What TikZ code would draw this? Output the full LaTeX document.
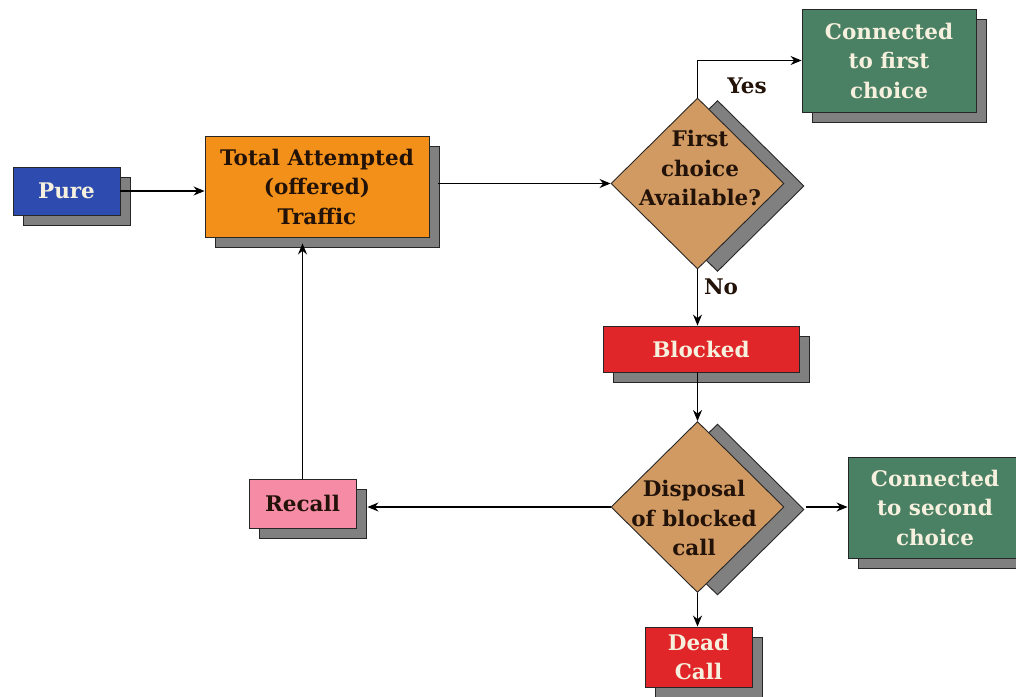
\documentclass[tikz,border=0pt]{standalone}
\usepackage{fontspec}
\setmainfont{DejaVu Serif}
\usetikzlibrary{shapes.geometric,shadows,arrows.meta}
\definecolor{pureblue}{RGB}{46,76,176}
\definecolor{traffic}{RGB}{243,144,25}
\definecolor{tan}{RGB}{209,154,98}
\definecolor{okgreen}{RGB}{74,128,99}
\definecolor{blockred}{RGB}{224,38,40}
\definecolor{pink}{RGB}{245,139,165}
\definecolor{shadowgray}{RGB}{128,128,128}
\definecolor{ink}{RGB}{34,18,8}
\definecolor{cream}{RGB}{246,240,222}
\begin{document}
\begin{tikzpicture}[x=1pt,y=-1pt,
	every node/.style={font=\fontsize{21.5}{29.5}\selectfont\bfseries,align=center,inner sep=0pt,text=ink},
	box/.style={draw=black!85,line width=0.9pt,
		drop shadow={shadow xshift=10pt,shadow yshift=-10pt,fill=shadowgray,draw=black!85,opacity=1}},
	decision/.style={diamond,draw=black!85,line width=0.9pt,fill=tan,minimum width=173pt,minimum height=171pt,
		drop shadow={shadow xshift=20pt,shadow yshift=-2.5pt,fill=shadowgray,draw=black!85,opacity=1}},
	link/.style={-{Stealth[length=11pt,width=9pt]},line width=1.1pt}]
\useasboundingbox (0,0) rectangle (1016,696);
\node[box,fill=pureblue,text=cream,minimum width=107pt,minimum height=48pt] (pure) at (66.5,191) {Pure};
\node[box,fill=traffic,minimum width=224pt,minimum height=101pt] (total) at (317,186.5) {Total Attempted\\(offered)\\Traffic};
\node[decision] (first) at (697.5,183.5) {};
\node (firsttext) at (700,168) {First\\choice\\Available?};
\node[box,fill=okgreen,text=cream,minimum width=174pt,minimum height=103pt] (conn1) at (889,60.5) {Connected\\to first\\choice};
\node[box,fill=blockred,text=cream,minimum width=196pt,minimum height=46pt] (blocked) at (701,349) {Blocked};
\node[decision] (disposal) at (697.5,507) {};
\node (disposaltext) at (694,518) {Disposal\\of blocked\\call};
\node[box,fill=okgreen,text=cream,minimum width=174pt,minimum height=101pt] (conn2) at (935,507.5) {Connected\\to second\\choice};
\node[box,fill=pink,minimum width=107pt,minimum height=49pt] (recall) at (302.5,503.5) {Recall};
\node[box,fill=blockred,text=cream,minimum width=107pt,minimum height=60pt] (dead) at (698.5,657) {Dead\\Call};
\node (yes) at (747,86) {Yes};
\node (no) at (721,287) {No};
\draw[link] (pure.east) -- (pure.east -| total.west);
\draw[link,shorten <=9pt] (total.east |- first.west) -- (first.west);
\draw[link] (first.north) |- (conn1.west);
\draw[link] (first.south) -- (first.south |- blocked.north);
\draw[link] (blocked.south -| disposal.north) -- (disposal.north);
\draw[link,shorten <=22pt] (disposal.east) -- (disposal.east -| conn2.west);
\draw[link] (disposal.south) -- (disposal.south |- dead.north);
\draw[link,shorten >=11pt] (disposal.west) -- (disposal.west -| recall.east);
\draw[link,shorten >=6pt] (recall.north) -- (recall.north |- total.south);
\end{tikzpicture}
\end{document}
